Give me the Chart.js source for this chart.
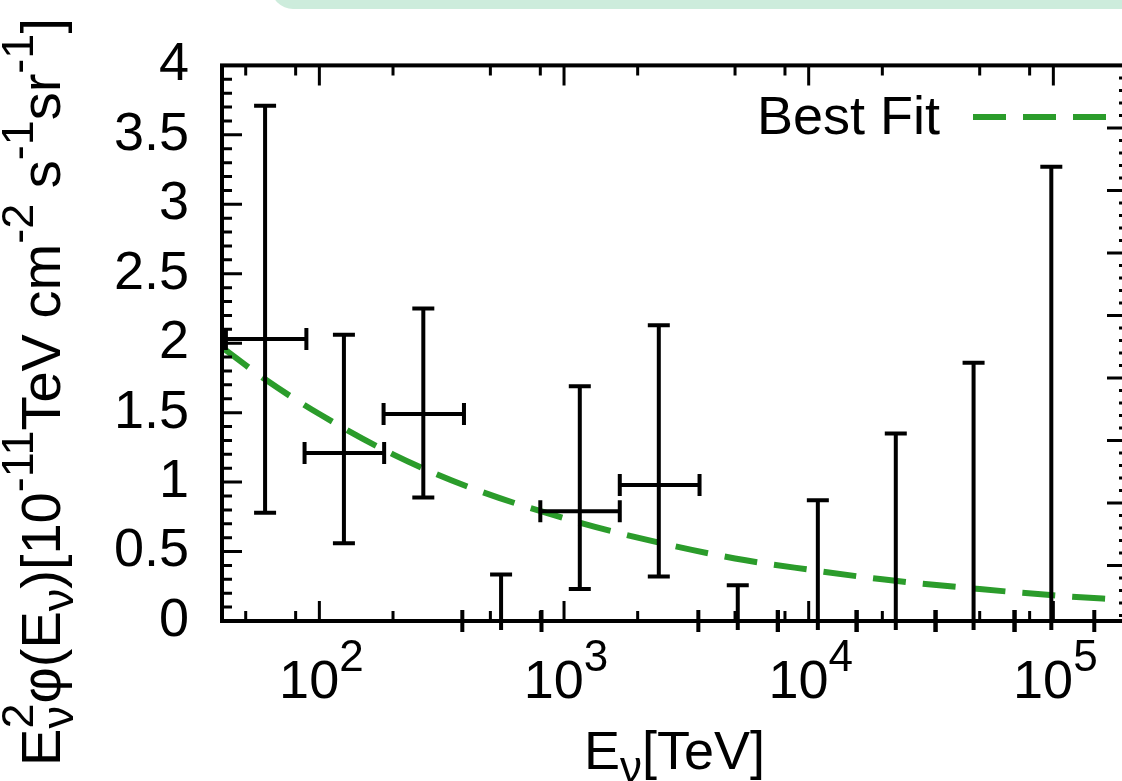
<!DOCTYPE html>
<html>
<head>
<meta charset="utf-8">
<script src="https://cdn.jsdelivr.net/npm/chart.js@4.4.1/dist/chart.umd.min.js"></script>
<style>
  html, body { margin: 0; padding: 0; background: #fff; overflow: hidden; }
  #wrap { position: relative; width: 1130px; height: 781px; }
  #tab { position: absolute; left: 271px; top: -40px; width: 900px; height: 49px; background: #cdecdc; border-radius: 22px; }
  #fluxChart { position: absolute; left: 0; top: 0; }
</style>
</head>
<body>
<div id="wrap">
  <div id="tab"></div>
  <canvas id="fluxChart"></canvas>
</div>
<script>
// binned points: centre energy, bin edges, flux and its error range
const energy   = [60, 126, 266, 553, 1160, 2440, 5130, 10900, 22700, 47200, 98100];
const eLow     = [41.5, 87, 183, 384, 800, 1690, 3540, 7480, 15700, 33000, 69400];
const eHigh    = [88.5, 184, 390, 809, 1690, 3580, 7480, 15700, 33000, 69400, 147000];
const flux     = [2.03, 1.21, 1.49, 0, 0.79, 0.98, 0, 0, 0, 0, 0];
const fluxLow  = [0.78, 0.56, 0.89, 0, 0.23, 0.32, 0, 0, 0, 0, 0];
const fluxHigh = [3.71, 2.06, 2.25, 0.335, 1.69, 2.13, 0.257, 0.87, 1.35, 1.86, 3.27];

// best fit curve
const fitEnergy = [40, 60, 100, 200, 400, 1000, 2000, 5000, 10000, 20000, 50000, 100000, 200000];
const fitFlux   = [1.97, 1.74, 1.49, 1.2, 0.97, 0.74, 0.6, 0.45, 0.37, 0.3, 0.23, 0.185, 0.15];

// axis ticks
const xMajor = [100, 1000, 10000, 100000];
const xMajorExp = ['2', '3', '4', '5'];
const xMinor = [50, 80, 200, 500, 800, 2000, 5000, 8000, 20000, 50000, 80000];

const FONT = '"Liberation Sans", Arial, Helvetica, sans-serif';
const GREEN = '#2b9c2b';

function drawRich(ctx, parts, x, y) {
    let cx = x;
    for (const p of parts) {
        ctx.font = p.size + 'px ' + FONT;
        ctx.fillText(p.t, cx, y + (p.dy || 0));
        if (!p.keep) cx += ctx.measureText(p.t).width;
    }
    return cx - x;
}

function richWidth(ctx, parts) {
    let w = 0;
    for (const p of parts) {
        ctx.font = p.size + 'px ' + FONT;
        if (!p.keep) w += ctx.measureText(p.t).width;
    }
    return w;
}

const yTitle = [
    { t: 'E', size: 56 },
    { t: 'ν', size: 45, dy: 13, keep: true },
    { t: '2', size: 45, dy: -27 },
    { t: 'φ(E', size: 56 },
    { t: 'ν', size: 45, dy: 13 },
    { t: ')[10', size: 56 },
    { t: '-11', size: 45, dy: -27 },
    { t: 'TeV cm', size: 56 },
    { t: '-2', size: 45, dy: -27 },
    { t: ' s', size: 56 },
    { t: '-1', size: 45, dy: -27 },
    { t: 'sr', size: 56 },
    { t: '-1', size: 45, dy: -27 },
    { t: ']', size: 56 }
];

const xTitle = [
    { t: 'E', size: 54 },
    { t: 'ν', size: 44, dy: 13 },
    { t: '[TeV]', size: 54 }
];

const frame = {
    id: 'frame',
    afterDatasetsDraw(chart) {
        const { ctx, scales: { x, y } } = chart;
        const cap = 11;
        ctx.save();
        ctx.strokeStyle = '#000';
        ctx.lineWidth = 4;
        energy.forEach((e, i) => {
            const px = x.getPixelForValue(e);
            const py = y.getPixelForValue(flux[i]);
            const x0 = x.getPixelForValue(eLow[i]);
            const x1 = x.getPixelForValue(eHigh[i]);
            const y0 = y.getPixelForValue(fluxLow[i]);
            const y1 = y.getPixelForValue(fluxHigh[i]);
            ctx.beginPath();
            ctx.moveTo(x0, py); ctx.lineTo(x1, py);
            ctx.moveTo(x0, py - cap); ctx.lineTo(x0, py + cap);
            ctx.moveTo(x1, py - cap); ctx.lineTo(x1, py + cap);
            ctx.moveTo(px, y0 + (fluxLow[i] === 0 ? 9 : 0)); ctx.lineTo(px, y1);
            ctx.moveTo(px - cap, y1); ctx.lineTo(px + cap, y1);
            if (fluxLow[i] > 0) { ctx.moveTo(px - cap, y0); ctx.lineTo(px + cap, y0); }
            ctx.stroke();
        });
        ctx.restore();
    },
    afterDraw(chart) {
        const { ctx, chartArea: a, scales: { x, y, y2 } } = chart;
        ctx.save();
        ctx.strokeStyle = '#000';
        ctx.fillStyle = '#000';

        // ticks, all pointing inwards
        ctx.lineWidth = 3;
        ctx.beginPath();
        xMajor.forEach(v => {
            const px = x.getPixelForValue(v);
            ctx.moveTo(px, a.bottom); ctx.lineTo(px, a.bottom - 20);
            ctx.moveTo(px, a.top); ctx.lineTo(px, a.top + 20);
        });
        xMinor.forEach(v => {
            const px = x.getPixelForValue(v);
            ctx.moveTo(px, a.bottom); ctx.lineTo(px, a.bottom - 10);
            ctx.moveTo(px, a.top); ctx.lineTo(px, a.top + 10);
        });
        for (let k = 0; k <= 40; k++) {
            const py = y.getPixelForValue(k / 10);
            ctx.moveTo(a.left, py); ctx.lineTo(a.left + (k % 5 === 0 ? 20 : 10), py);
        }
        for (let k = 0; k <= 44; k++) {
            const py = y2.getPixelForValue(k / 5);
            if (py > a.bottom) break;
            ctx.moveTo(a.right, py); ctx.lineTo(a.right - (k % 5 === 0 ? 20 : 8), py);
        }
        ctx.stroke();

        // border
        ctx.lineWidth = 4;
        ctx.strokeRect(a.left, a.top, a.right - a.left, a.bottom - a.top);

        // x tick labels 10^n
        ctx.textBaseline = 'alphabetic';
        ctx.textAlign = 'left';
        xMajor.forEach((v, i) => {
            const parts = [{ t: '10', size: 54 }, { t: xMajorExp[i], size: 44, dy: -27 }];
            const w = richWidth(ctx, parts);
            drawRich(ctx, parts, x.getPixelForValue(v) - w / 2 + 2, 698);
        });

        // x title
        const xw = richWidth(ctx, xTitle);
        drawRich(ctx, xTitle, (a.left + a.right) / 2 - xw / 2, 769);

        // y title, rotated
        const yw = richWidth(ctx, yTitle);
        ctx.save();
        ctx.translate(60, 392 + yw / 2);
        ctx.rotate(-Math.PI / 2);
        drawRich(ctx, yTitle, 0, 0);
        ctx.restore();

        // key
        ctx.font = '54px ' + FONT;
        ctx.textAlign = 'right';
        ctx.fillText(chart.data.datasets[0].label, 940, 134);
        ctx.strokeStyle = GREEN;
        ctx.lineWidth = 6;
        ctx.setLineDash([33, 17]);
        ctx.beginPath();
        ctx.moveTo(973, 117); ctx.lineTo(1107, 117);
        ctx.stroke();
        ctx.restore();
    }
};

window.onload = function () {
    const ctx = document.getElementById('fluxChart').getContext('2d');

    new Chart(ctx, {
        type: 'scatter',
        data: {
            datasets: [{
                type: 'line',
                label: 'Best Fit',
                data: fitEnergy.map((e, i) => ({ x: e, y: fitFlux[i] })),
                borderColor: GREEN,
                borderWidth: 6,
                borderDash: [33, 17],
                cubicInterpolationMode: 'monotone',
                pointRadius: 0,
                fill: false
            }, {
                label: 'data',
                data: energy.map((e, i) => ({ x: e, y: flux[i] })),
                pointRadius: 0
            }]
        },
        options: {
            animation: false,
            responsive: true,
            maintainAspectRatio: false,
            devicePixelRatio: 1,
            layout: { padding: { left: 0, top: 61, right: 3, bottom: 0 } },
            plugins: {
                legend: { display: false },
                tooltip: { enabled: false }
            },
            scales: {
                x: {
                    type: 'logarithmic',
                    min: 40,
                    max: 200000,
                    ticks: { display: false },
                    grid: { display: false, drawTicks: false },
                    border: { display: false },
                    afterFit(scale) { scale.height = 160; }
                },
                y: {
                    min: 0,
                    max: 4,
                    ticks: {
                        stepSize: 0.5,
                        autoSkip: false,
                        padding: 33,
                        color: '#000',
                        font: { family: FONT, size: 54 },
                        callback: v => String(v)
                    },
                    grid: { display: false, drawTicks: false },
                    border: { display: false },
                    afterFit(scale) { scale.width = 222; }
                },
                y2: {
                    display: false,
                    position: 'right',
                    reverse: true,
                    min: 0,
                    max: 8.89
                }
            }
        },
        plugins: [frame]
    });
};
</script>
</body>
</html>
